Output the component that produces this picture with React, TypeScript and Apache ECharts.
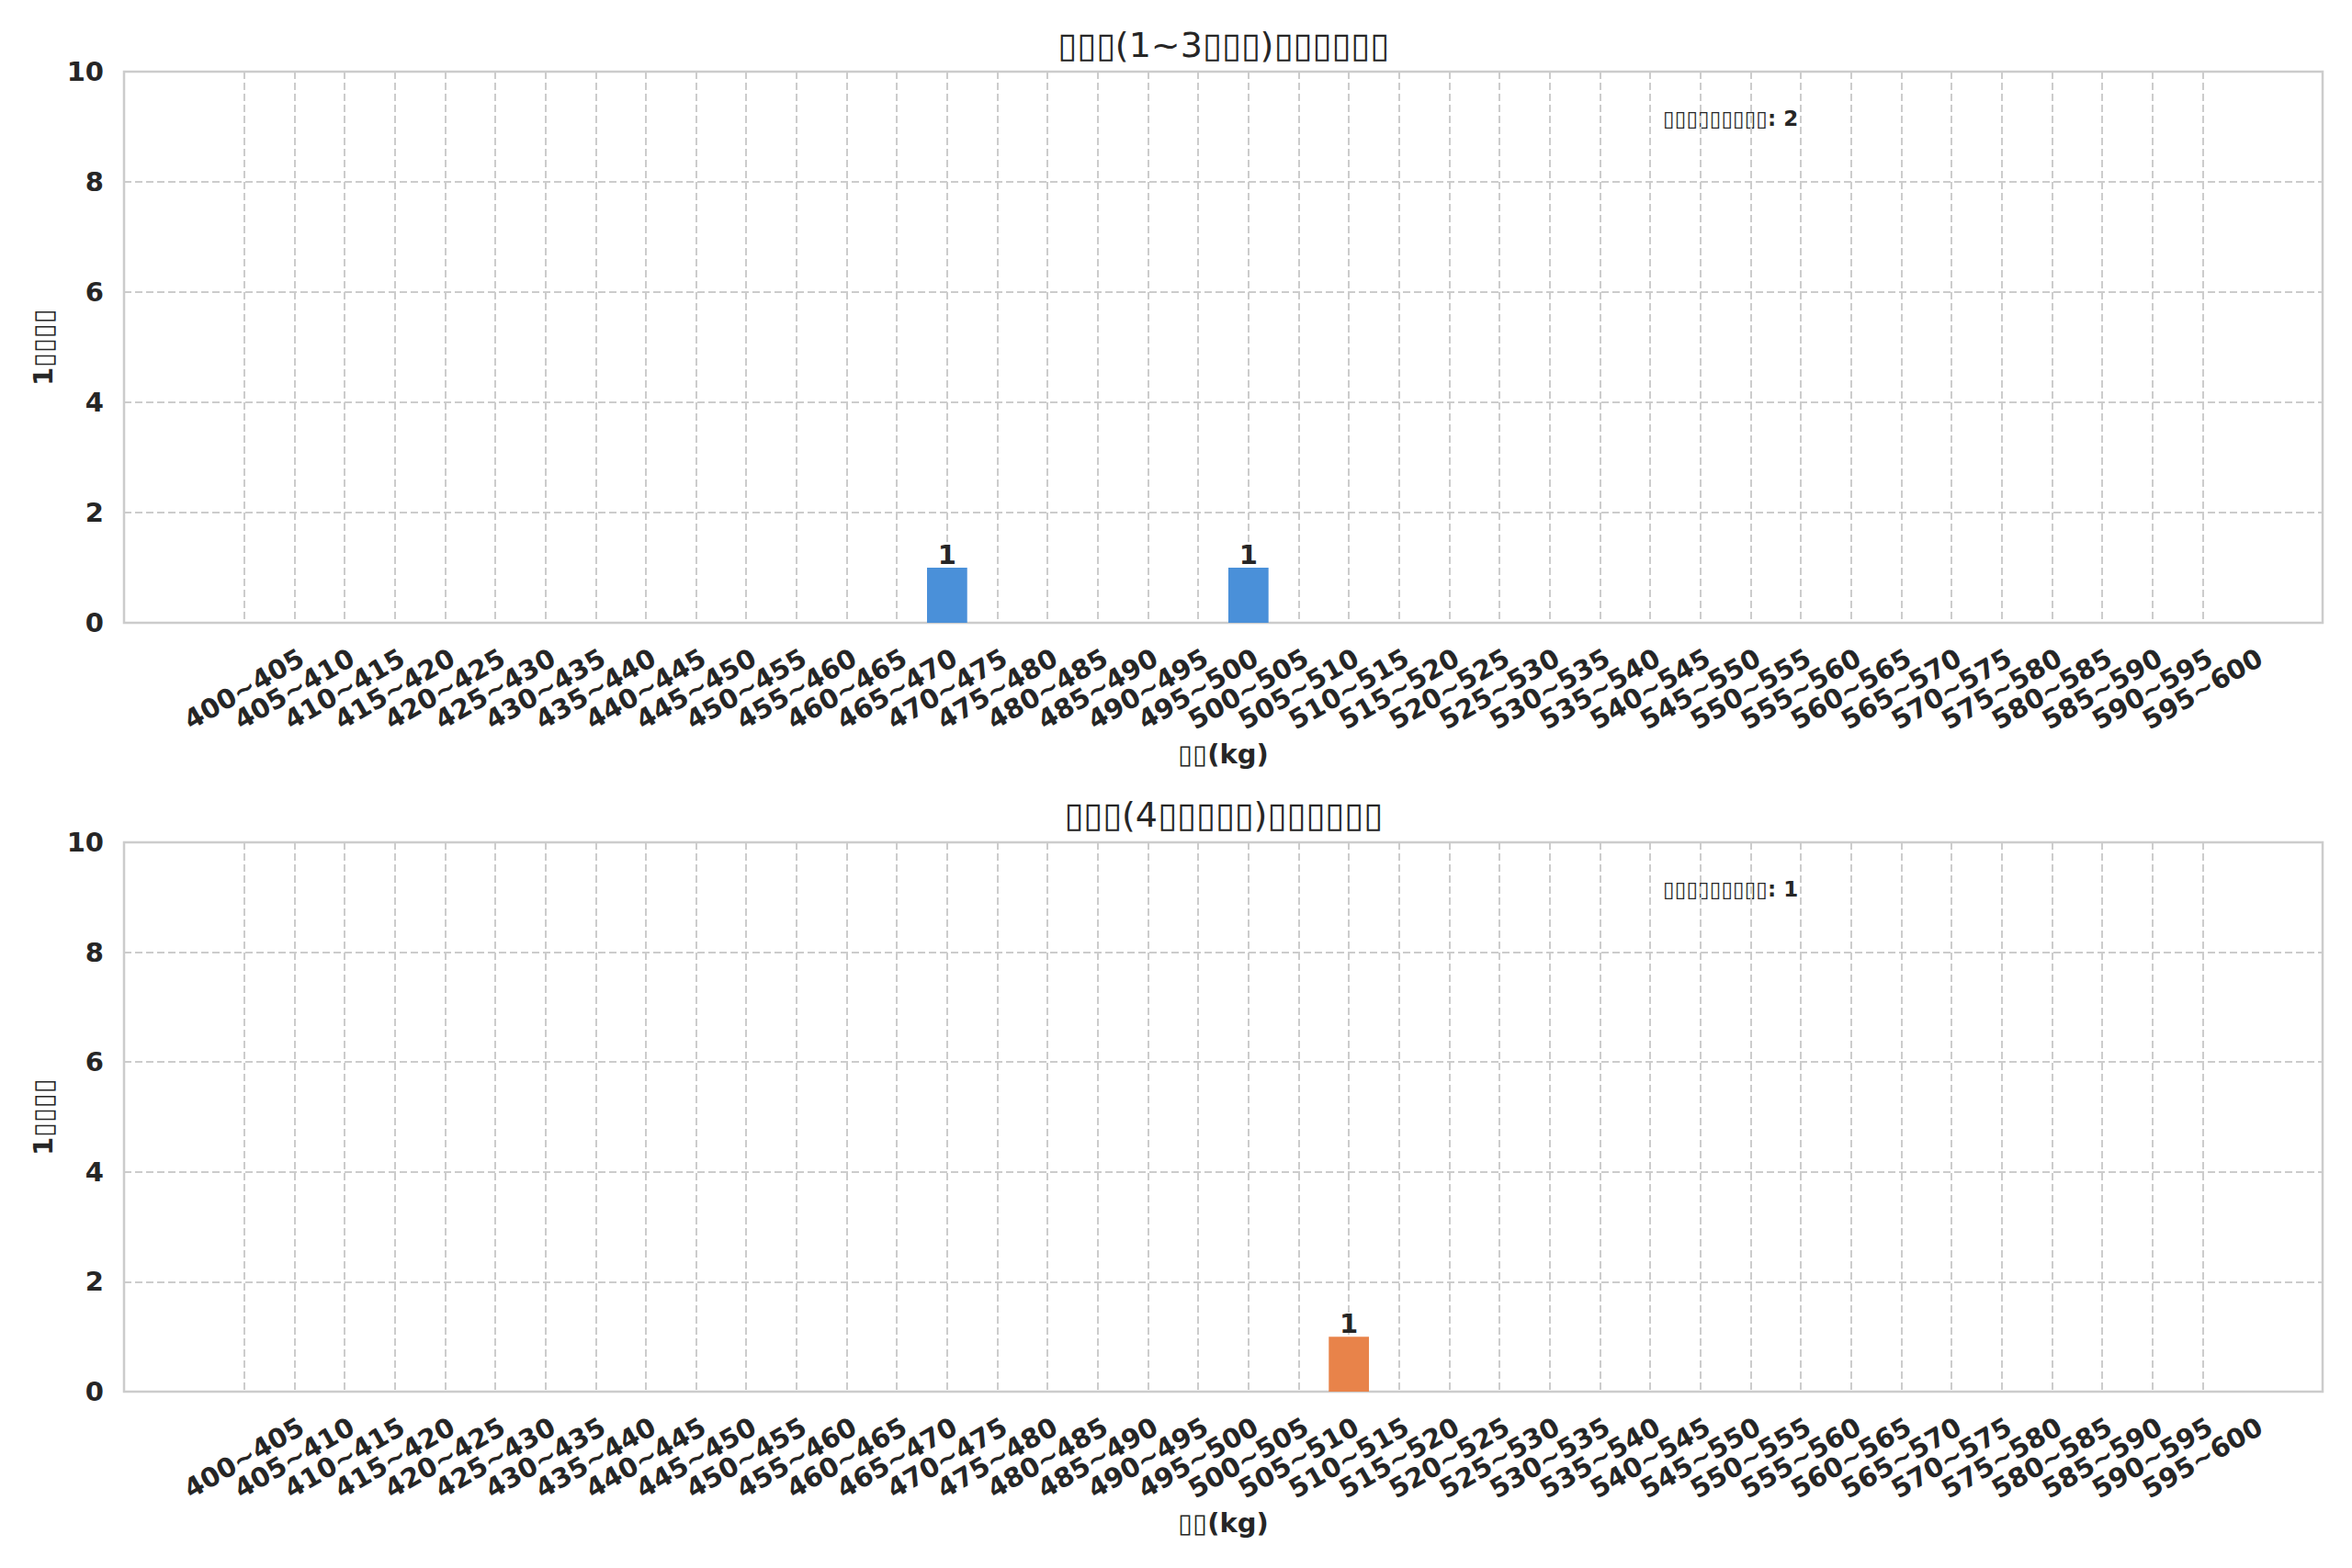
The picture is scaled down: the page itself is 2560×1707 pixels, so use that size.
import React, { useEffect, useRef } from 'react';
import * as echarts from 'echarts';

// ---- data ----
const weightBins = [
  '400~405', '405~410', '410~415', '415~420', '420~425', '425~430', '430~435', '435~440',
  '440~445', '445~450', '450~455', '455~460', '460~465', '465~470', '470~475', '475~480',
  '480~485', '485~490', '490~495', '495~500', '500~505', '505~510', '510~515', '515~520',
  '520~525', '525~530', '530~535', '535~540', '540~545', '545~550', '550~555', '555~560',
  '560~565', '565~570', '570~575', '575~580', '580~585', '585~590', '590~595', '595~600',
];
const countsGroupA = [
  0, 0, 0, 0, 0, 0, 0, 0, 0, 0, 0, 0, 0, 0, 1, 0, 0, 0, 0, 0,
  1, 0, 0, 0, 0, 0, 0, 0, 0, 0, 0, 0, 0, 0, 0, 0, 0, 0, 0, 0,
];
const countsGroupB = [
  0, 0, 0, 0, 0, 0, 0, 0, 0, 0, 0, 0, 0, 0, 0, 0, 0, 0, 0, 0,
  0, 0, 1, 0, 0, 0, 0, 0, 0, 0, 0, 0, 0, 0, 0, 0, 0, 0, 0, 0,
];
const yTickValues = [0, 2, 4, 6, 8, 10];
const panelTitles = ['▯▯▯(1~3▯▯▯)▯▯▯▯▯▯', '▯▯▯(4▯▯▯▯▯)▯▯▯▯▯▯'];
const totalNotes = ['▯▯▯▯▯▯▯▯▯: 2', '▯▯▯▯▯▯▯▯▯: 1'];
const xAxisName = '▯▯(kg)';
const yAxisName = '1▯▯▯▯';
const barColors = ['#4A90D9', '#E8834A'];

// ---- layout ----
const W = 2560;
const H = 1707;
const LEFT = 135;
const RIGHT = 32;
const PLOT_W = W - LEFT - RIGHT;
const panels = [
  { top: 78, height: 600, titleY: 49, noteY: 129 },
  { top: 917, height: 598, titleY: 887, noteY: 968 },
];
const X_MIN = -2.39;
const X_MAX = 41.39;
const UNIT = PLOT_W / (X_MAX - X_MIN);
const BAR_W = 0.8 * UNIT;
const INNER_LEFT = LEFT + (0 - X_MIN) * UNIT;
const INNER_RIGHT = W - (LEFT + (weightBins.length - 1 - X_MIN) * UNIT);
const FONT = '"DejaVu Sans", "Noto Sans", sans-serif';
const TEXT = '#262626';
const GRID_C = '#cccccc';
const TICK_FS = 29;

export default function App() {
  const ref = useRef<HTMLDivElement>(null);
  useEffect(() => {
    if (!ref.current) return;
    const chart = echarts.init(ref.current, undefined, { renderer: 'svg', width: W, height: H });
    const tickIdx = weightBins.map((_, i) => i);
    const seriesCounts = [countsGroupA, countsGroupB];
    const labelStyle = { fontFamily: FONT, fontSize: TICK_FS, fontWeight: 'bold', color: TEXT };
    const option: any = {
      animation: false,
      backgroundColor: '#ffffff',
      grid: [
        ...panels.map((p) => ({
          left: LEFT,
          right: RIGHT,
          top: p.top,
          height: p.height,
          show: true,
          borderColor: GRID_C,
          borderWidth: 2.5,
          backgroundColor: 'transparent',
          z: 0,
        })),
        ...panels.map((p) => ({
          left: INNER_LEFT,
          right: INNER_RIGHT,
          top: p.top,
          height: p.height,
          show: false,
        })),
      ],
      xAxis: [
        ...panels.map((_, k) => ({
          type: 'value',
          gridIndex: k,
          min: X_MIN,
          max: X_MAX,
          name: xAxisName,
          nameLocation: 'middle',
          nameGap: 143,
          nameTextStyle: { ...labelStyle, verticalAlign: 'middle' },
          axisLine: { show: false },
          axisTick: { show: false, customValues: tickIdx },
          axisLabel: { show: false, customValues: tickIdx },
          splitLine: { show: true, lineStyle: { color: GRID_C, type: [8, 4], width: 2 } },
        })),
        ...panels.map((_, k) => ({
          type: 'category',
          gridIndex: panels.length + k,
          data: weightBins,
          boundaryGap: false,
          axisLine: { show: false },
          axisTick: { show: false },
          splitLine: { show: false },
          axisLabel: {
            interval: 0,
            rotate: 30,
            align: 'center',
            verticalAlign: 'middle',
            margin: 72,
            ...labelStyle,
          },
        })),
      ],
      yAxis: [
        ...panels.map((_, k) => ({
          type: 'value',
          gridIndex: k,
          min: yTickValues[0],
          max: yTickValues[yTickValues.length - 1],
          interval: 2,
          name: yAxisName,
          nameLocation: 'middle',
          nameRotate: 90,
          nameGap: 86,
          nameTextStyle: { ...labelStyle, verticalAlign: 'middle' },
          axisLine: { show: false },
          axisTick: { show: false },
          axisLabel: { margin: 22, showMinLabel: true, showMaxLabel: true, ...labelStyle },
          splitLine: { show: true, lineStyle: { color: GRID_C, type: [8, 4], width: 2 } },
        })),
        ...panels.map((_, k) => ({
          type: 'value',
          gridIndex: panels.length + k,
          min: yTickValues[0],
          max: yTickValues[yTickValues.length - 1],
          show: false,
        })),
      ],
      series: seriesCounts.map((counts, k) => ({
        type: 'bar',
        xAxisIndex: k,
        yAxisIndex: k,
        barWidth: BAR_W,
        data: counts.map((c, i) => [i, c]),
        itemStyle: { color: barColors[k] },
        label: {
          show: true,
          position: 'top',
          distance: 0,
          formatter: (p: any) => (p.value[1] > 0 ? String(p.value[1]) : ''),
          ...labelStyle,
        },
      })),
      graphic: [
        ...panels.map((p, k) => ({
          type: 'text',
          x: LEFT + PLOT_W / 2,
          y: p.titleY,
          style: {
            text: panelTitles[k],
            fontFamily: FONT,
            fontSize: 38,
            fill: TEXT,
            textAlign: 'center',
            textVerticalAlign: 'middle',
          },
        })),
        ...panels.map((p, k) => ({
          type: 'text',
          x: LEFT + 0.7 * PLOT_W,
          y: p.noteY,
          style: {
            text: totalNotes[k],
            fontFamily: FONT,
            fontSize: 23,
            fontWeight: 'bold',
            fill: TEXT,
            textAlign: 'left',
            textVerticalAlign: 'middle',
          },
        })),
      ],
    };
    chart.setOption(option);
    return () => chart.dispose();
  }, []);
  return (
    <div
      ref={ref}
      style={{ position: 'fixed', left: 0, top: 0, width: W, height: H, background: '#ffffff' }}
    />
  );
}
